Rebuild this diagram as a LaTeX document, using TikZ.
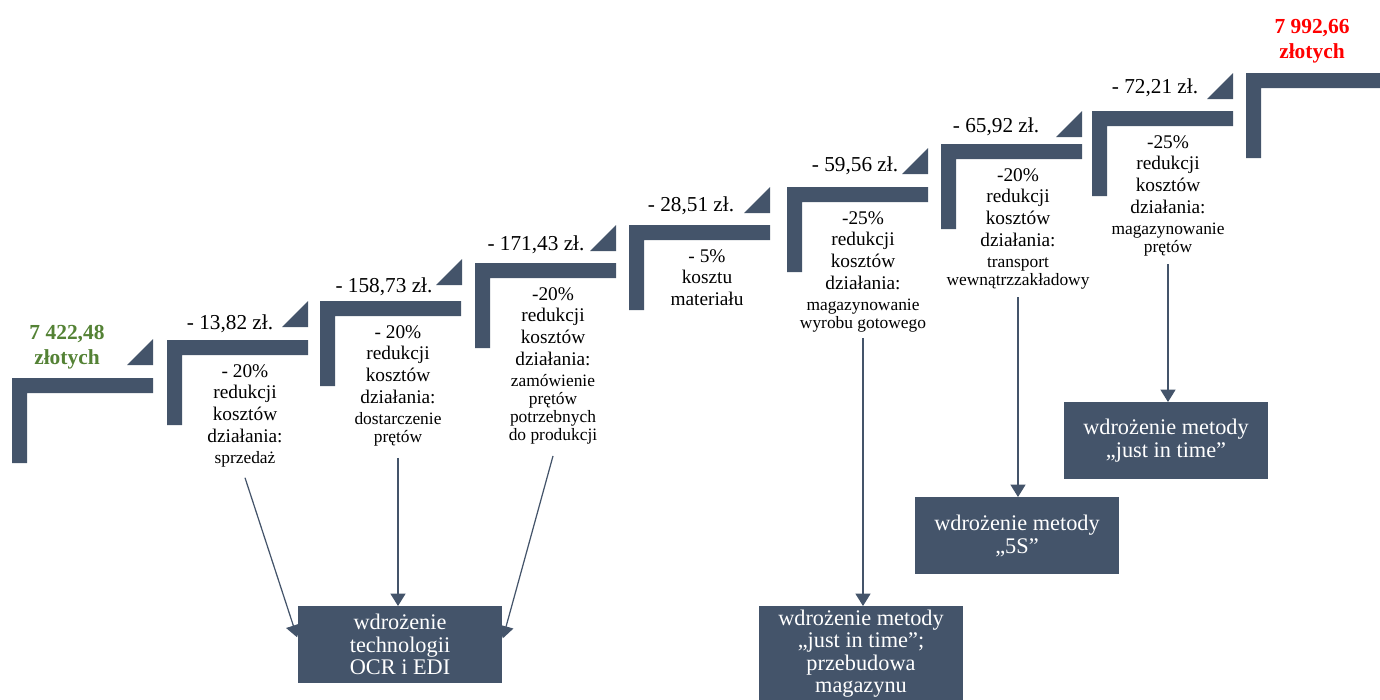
\documentclass[tikz,border=0pt]{standalone}
\usepackage{fontspec}
\setmainfont{Liberation Serif}
\usetikzlibrary{arrows.meta}
\definecolor{slate}{RGB}{68,84,106}
\definecolor{plnGreen}{RGB}{84,130,53}
\definecolor{plnRed}{RGB}{255,0,0}
\newcommand{\smalltxt}[1]{{\fontsize{9.9pt}{10.5pt}\selectfont #1}}

\begin{document}
\begin{tikzpicture}[x=0.02cm, y=-0.02cm,
    bar/.style={fill=slate},
    desc/.style={anchor=north, align=center, inner sep=0pt, font=\fontsize{11pt}{12.3pt}\selectfont},
    amt/.style={anchor=base, inner sep=0pt, font=\fontsize{12.1pt}{14pt}\selectfont},
    total/.style={align=center, inner sep=0pt, font=\fontsize{12.2pt}{14.2pt}\selectfont\bfseries},
    box/.style={fill=slate, text=white, align=center, anchor=north, minimum width=4.1cm, minimum height=1.54cm, inner sep=2pt, font=\fontsize{12.7pt}{12.8pt}\selectfont},
    arr/.style={draw=slate, line width=0.7pt, -{Triangle[width=8.5pt,length=7pt]}}]
    \useasboundingbox (0,0) rectangle (1380,700);

    \fill[bar] (12,378) -- ++(141,0) -- ++(0,15) -- ++(-126,0) -- ++(0,70) -- ++(-15,0) -- cycle;
    \fill[bar] (127,365) -- ++(26,0) -- ++(0,-26) -- cycle;
    \fill[bar] (167,340) -- ++(141,0) -- ++(0,15) -- ++(-126,0) -- ++(0,70) -- ++(-15,0) -- cycle;
    \fill[bar] (282,327) -- ++(26,0) -- ++(0,-26) -- cycle;
    \fill[bar] (320,301) -- ++(141,0) -- ++(0,15) -- ++(-126,0) -- ++(0,70) -- ++(-15,0) -- cycle;
    \fill[bar] (436,285) -- ++(26,0) -- ++(0,-26) -- cycle;
    \fill[bar] (475,263) -- ++(141,0) -- ++(0,15) -- ++(-126,0) -- ++(0,70) -- ++(-15,0) -- cycle;
    \fill[bar] (590,251) -- ++(26,0) -- ++(0,-26) -- cycle;
    \fill[bar] (629,225) -- ++(141,0) -- ++(0,15) -- ++(-126,0) -- ++(0,70) -- ++(-15,0) -- cycle;
    \fill[bar] (744,213) -- ++(26,0) -- ++(0,-26) -- cycle;
    \fill[bar] (787,187) -- ++(141,0) -- ++(0,15) -- ++(-126,0) -- ++(0,70) -- ++(-15,0) -- cycle;
    \fill[bar] (902,174) -- ++(26,0) -- ++(0,-26) -- cycle;
    \fill[bar] (941,144) -- ++(141,0) -- ++(0,15) -- ++(-126,0) -- ++(0,70) -- ++(-15,0) -- cycle;
    \fill[bar] (1056,137) -- ++(26,0) -- ++(0,-26) -- cycle;
    \fill[bar] (1092,111) -- ++(141,0) -- ++(0,15) -- ++(-126,0) -- ++(0,70) -- ++(-15,0) -- cycle;
    \fill[bar] (1207,99) -- ++(26,0) -- ++(0,-26) -- cycle;
    \fill[bar] (1246,73) -- ++(141,0) -- ++(0,15) -- ++(-126,0) -- ++(0,70) -- ++(-15,0) -- cycle;

    \node[total, text=plnGreen] (start) at (67,347) {7 422,48\\złotych};
    \node[total, text=plnRed] (finish) at (1312,41) {7 992,66\\złotych};

    \node[amt] (a1) at (230,329) {- 13,82 zł.};
    \node[amt] (a2) at (384,292) {- 158,73 zł.};
    \node[amt] (a3) at (536,250) {- 171,43 zł.};
    \node[amt] (a4) at (691,211) {- 28,51 zł.};
    \node[amt] (a5) at (855,171) {- 59,56 zł.};
    \node[amt] (a6) at (996,132) {- 65,92 zł.};
    \node[amt] (a7) at (1155,93) {- 72,21 zł.};

    \node[desc] (d1) at (245,364) {- 20\%\\redukcji\\kosztów\\działania:\\\smalltxt{sprzedaż}};
    \node[desc] (d2) at (398,325) {- 20\%\\redukcji\\kosztów\\działania:\\\smalltxt{dostarczenie}\\[-2pt]\smalltxt{prętów}};
    \node[desc] (d3) at (553,287) {-20\%\\redukcji\\kosztów\\działania:\\\smalltxt{zamówienie}\\[-2pt]\smalltxt{prętów}\\[-2pt]\smalltxt{potrzebnych}\\[-2pt]\smalltxt{do produkcji}};
    \node[desc] (d4) at (707,249) {- 5\%\\kosztu\\materiału};
    \node[desc] (d5) at (863,211) {-25\%\\redukcji\\kosztów\\działania:\\\smalltxt{magazynowanie}\\[-2pt]\smalltxt{wyrobu gotowego}};
    \node[desc] (d6) at (1018,168) {-20\%\\redukcji\\kosztów\\działania:\\\smalltxt{transport}\\[-2pt]\smalltxt{wewnątrzzakładowy}};
    \node[desc] (d7) at (1168,135) {-25\%\\redukcji\\kosztów\\działania:\\\smalltxt{magazynowanie}\\[-2pt]\smalltxt{prętów}};

    \node[box] (ocr) at (400,606) {wdrożenie\\technologii\\OCR i EDI};
    \node[box, minimum height=1.9cm] (jitmag) at (861,606) {wdrożenie metody\\„just in time”;\\przebudowa\\magazynu};
    \node[box] (fives) at (1017,497) {wdrożenie metody\\„5S”};
    \node[box] (jit) at (1166,402) {wdrożenie metody\\„just in time”};

    \draw[arr] ([yshift=-0.2cm]d1.south) -- ([yshift=0.15cm]ocr.west);
    \draw[arr] ([yshift=-0.22cm]d2.south) -- (d2.south |- ocr.north);
    \draw[arr] ([yshift=-0.22cm]d3.south) -- ([yshift=0.13cm]ocr.east);
    \draw[arr] ([yshift=-0.1cm]d5.south) -- (d5.south |- jitmag.north);
    \draw[arr] ([yshift=-0.15cm]d6.south) -- (d6.south |- fives.north);
    \draw[arr] ([yshift=-0.15cm]d7.south) -- (d7.south |- jit.north);
\end{tikzpicture}
\end{document}
